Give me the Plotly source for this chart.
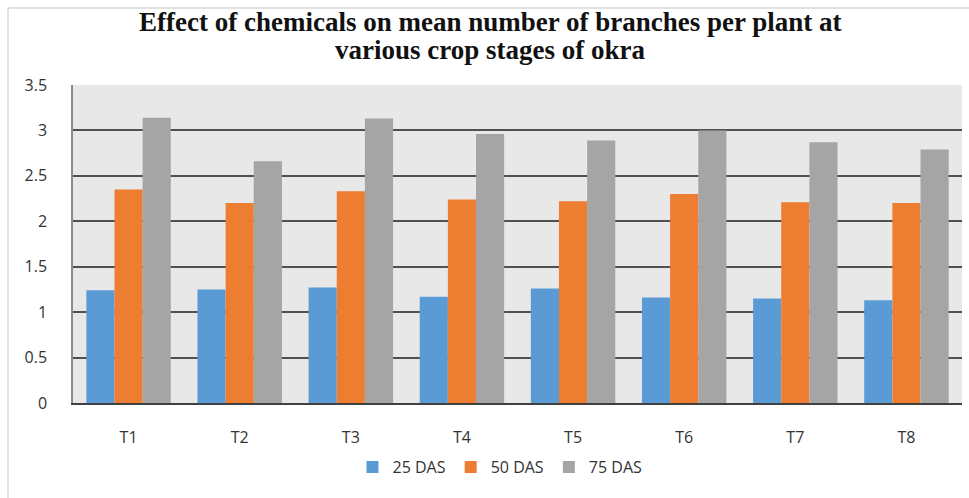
import plotly.graph_objects as go

categories = ["T1", "T2", "T3", "T4", "T5", "T6", "T7", "T8"]
das25 = [1.24, 1.25, 1.27, 1.17, 1.26, 1.16, 1.15, 1.13]
das50 = [2.35, 2.20, 2.33, 2.24, 2.22, 2.30, 2.21, 2.20]
das75 = [3.14, 2.66, 3.13, 2.96, 2.89, 3.00, 2.87, 2.79]
series_names = ["25 DAS", "50 DAS", "75 DAS"]
colors = ["#5B9BD5", "#ED7D31", "#A5A5A5"]
y_ticks = [0, 0.5, 1, 1.5, 2, 2.5, 3, 3.5]
y_tick_labels = ["0", "0.5", "1", "1.5", "2", "2.5", "3", "3.5"]
title_lines = ["Effect of chemicals on mean number of branches per plant at",
               "various crop stages of okra"]

W, H = 969, 498
L, R, T, B = 73, 7, 85, 95
pw = W - L - R
ph = H - T - B

TICK_FONT = "Open Sans"

fig = go.Figure()
for name, vals, c in zip(series_names, [das25, das50, das75], colors):
    fig.add_trace(go.Bar(x=categories, y=vals, name=name, marker_color=c,
                         marker_line_width=0))

# outer chart border (only top/left visible in the reference crop)
fig.add_shape(type="rect", xref="paper", yref="paper",
              x0=(8 - L) / pw, x1=(W + 20 - L) / pw,
              y0=-(H + 20 - T - ph) / ph, y1=1 + (T - 8) / ph,
              line=dict(color="#D9D9D9", width=1.5), fillcolor="rgba(0,0,0,0)",
              layer="below")

# two-line title with tight line spacing
for line, ypix in zip(title_lines, [22, 50]):
    fig.add_annotation(text=line, xref="paper", yref="paper",
                       x=(490 - L) / pw, xanchor="center",
                       y=1 + (T - ypix) / ph, yanchor="middle", showarrow=False,
                       font=dict(family="Liberation Serif", size=27, color="#111111",
                                 weight="bold"))

fig.update_layout(
    width=W, height=H,
    margin=dict(l=L, r=R, t=T, b=B),
    paper_bgcolor="white",
    plot_bgcolor="#E8E8E8",
    barmode="group",
    bargap=0.24,
    bargroupgap=0,
    font=dict(family=TICK_FONT, size=16, color="#333333"),
    legend=dict(orientation="h", x=(500 - L) / pw, xanchor="center",
                y=-(467 - 403) / ph, yanchor="middle",
                font=dict(family=TICK_FONT, size=16, color="#333333"),
                itemwidth=30, traceorder="normal"),
    showlegend=True,
)
fig.update_xaxes(showgrid=False, showline=True, linecolor="#404040", linewidth=1.5,
                 ticks="", ticklabelstandoff=19,
                 tickfont=dict(family=TICK_FONT, size=16, color="#333333"))
fig.update_yaxes(range=[0, 3.5], tickvals=y_ticks, ticktext=y_tick_labels,
                 showgrid=True, gridcolor="#505050", gridwidth=1.5,
                 showline=True, linecolor="#8a8a8a", linewidth=1.5,
                 zeroline=False, ticks="", ticklabelstandoff=21,
                 tickfont=dict(family=TICK_FONT, size=16, color="#333333"))

fig.write_html("out.html")
